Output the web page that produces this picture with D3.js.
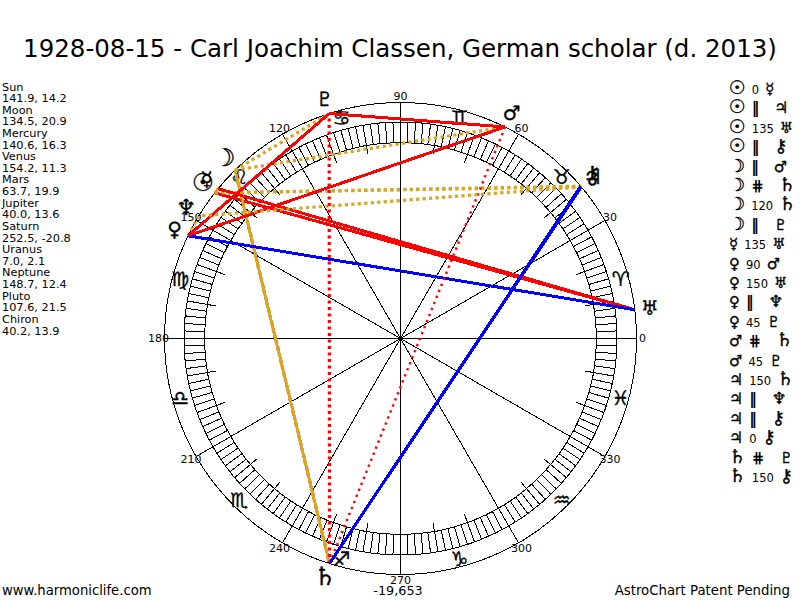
<!DOCTYPE html>
<html>
<head>
<meta charset="utf-8">
<script src="https://cdn.jsdelivr.net/npm/d3@7"></script>
<style>
  body { margin: 0; background: #fff; }
  text { font-family: "DejaVu Sans", sans-serif; fill: #000; }
  .glyph { stroke: #000; stroke-width: 0.35; }
</style>
</head>
<body>
<svg id="chart" width="800" height="600"></svg>
<script>
// natal chart wheel

var titleText = "1928-08-15 - Carl Joachim Classen, German scholar (d. 2013)";
var bodies = ["Sun", "Moon", "Mercury", "Venus", "Mars", "Jupiter", "Saturn", "Uranus", "Neptune", "Pluto", "Chiron"];
var longitudes = [141.9, 134.5, 140.6, 154.2, 63.7, 40.0, 252.5, 7.0, 148.7, 107.6, 40.2];
var declinations = [14.2, 20.9, 16.3, 11.3, 19.9, 13.6, -20.8, 2.1, 12.4, 21.5, 13.9];
var bodyGlyphs = ["\u2609", "\u263D", "\u263F", "\u2640", "\u2642", "\u2643", "\u2644", "\u2645", "\u2646", "\u2647", "\u26B7"];
var signGlyphs = ["\u2648", "\u2649", "\u264A", "\u264B", "\u264C", "\u264D", "\u264E", "\u264F", "\u2650", "\u2651", "\u2652", "\u2653"];
var degreeLabels = [0, 30, 60, 90, 120, 150, 180, 210, 240, 270, 300, 330];

// [body, aspect, body]; P = parallel, C = contra-parallel
var aspects = [
  [0, "0", 2], [0, "P", 5], [0, "135", 7], [0, "P", 10],
  [1, "P", 4], [1, "C", 6], [1, "120", 6], [1, "P", 9],
  [2, "135", 7],
  [3, "90", 4], [3, "150", 7], [3, "P", 8], [3, "45", 9],
  [4, "C", 6], [4, "45", 9],
  [5, "150", 6], [5, "P", 8], [5, "P", 10], [5, "0", 10],
  [6, "C", 9], [6, "150", 10]
];
var chartNumber = "-19,653";

var svg = d3.select("#chart");
var cx = 400.5, cy = 338.5;
var rOuter = 236, rRing = 216.5, rInner = 196, rTick = 187;
var FE = "\uFE0E";

// degrees on the wheel, 0 on the right, counter-clockwise
var angle = d3.scaleLinear().domain([0, 360]).range([0, -2 * Math.PI]);
function px(deg, r) { return cx + r * Math.cos(angle(deg)); }
function py(deg, r) { return cy + r * Math.sin(angle(deg)); }

// DejaVu draws some of the symbols smaller than others
var glyphSize = d3.scaleOrdinal().domain(bodyGlyphs)
  .range([25, 24, 20, 20, 20, 21, 25, 20, 22, 20, 24]);

function radial(g, degs, r0, r1) {
  g.selectAll(null).data(degs).enter().append("line")
    .attr("x1", function(d) { return px(d, r0); })
    .attr("y1", function(d) { return py(d, r0); })
    .attr("x2", function(d) { return px(d, r1); })
    .attr("y2", function(d) { return py(d, r1); })
    .attr("stroke", "#000").attr("stroke-width", 1);
}

svg.append("text").attr("x", 400).attr("y", 57).attr("text-anchor", "middle")
  .attr("font-size", 24.5).text(titleText);

// wheel
var wheel = svg.append("g").attr("shape-rendering", "crispEdges");
wheel.selectAll("circle").data([rOuter, rRing, rInner]).enter().append("circle")
  .attr("cx", cx).attr("cy", cy).attr("r", function(d) { return d; })
  .attr("fill", "none").attr("stroke", "#000").attr("stroke-width", 1);
radial(wheel, d3.range(0, 360, 2), rInner, rRing);
radial(wheel, d3.range(0, 360, 10), rTick, rRing);
radial(wheel, d3.range(0, 360, 30), 0, rOuter);

svg.selectAll(".sign").data(signGlyphs).enter().append("text")
  .attr("class", "glyph")
  .attr("x", function(d, i) { return px(i * 30 + 15, 228); })
  .attr("y", function(d, i) { return py(i * 30 + 15, 228) + 7; })
  .attr("text-anchor", "middle").attr("font-size", 20).text(function(d) { return d + FE; });

svg.selectAll(".deg").data(degreeLabels).enter().append("text")
  .attr("x", function(d) { return px(d, 242); })
  .attr("y", function(d) { return py(d, 242) + 3.5; })
  .attr("text-anchor", "middle").attr("font-size", 11).text(function(d) { return d; });

// aspect lines
function orb(d) {
  if (d[1] === "C") return Math.abs(declinations[d[0]] + declinations[d[2]]);
  return Math.abs(declinations[d[0]] - declinations[d[2]]);
}
function isDeclination(d) { return d[1] === "P" || d[1] === "C"; }

var aspectColor = d3.scaleOrdinal()
  .domain(["0", "P", "C", "45", "90", "135", "120", "150"])
  .range(["#daa520", "#daa520", "#f00", "#f00", "#f00", "#f00", "#daa520", "#00f"]);
// a wide contra-parallel gets the finer dotted line
function lineWidth(d) {
  if (!isDeclination(d)) return 3;
  return d[1] === "C" && orb(d) >= 0.8 ? 2.4 : 3.2;
}

svg.append("g").selectAll("line").data(aspects).enter().append("line")
  .attr("shape-rendering", function(d) { return isDeclination(d) ? "auto" : "crispEdges"; })
  .attr("x1", function(d) { return px(longitudes[d[0]], 236); })
  .attr("y1", function(d) { return py(longitudes[d[0]], 236); })
  .attr("x2", function(d) { return px(longitudes[d[2]], 236); })
  .attr("y2", function(d) { return py(longitudes[d[2]], 236); })
  .attr("stroke", function(d) { return aspectColor(d[1]); })
  .attr("stroke-width", lineWidth)
  .attr("stroke-dasharray", function(d) {
    if (!isDeclination(d)) return null;
    return lineWidth(d) + " " + (6.5 - lineWidth(d));
  });

// planets round the outside
svg.selectAll(".body").data(bodyGlyphs).enter().append("text")
  .attr("class", "glyph")
  .attr("x", function(d, i) { return px(longitudes[i], 251); })
  .attr("y", function(d, i) { return py(longitudes[i], 251) + 7; })
  .attr("text-anchor", "middle")
  .attr("font-size", function(d) { return glyphSize(d); })
  .text(function(d) { return d + FE; });

// left column
var listRows = [];
bodies.forEach(function(b, i) {
  listRows.push(b);
  listRows.push(longitudes[i].toFixed(1) + ", " + declinations[i].toFixed(1));
});
svg.selectAll(".list").data(listRows).enter().append("text")
  .attr("x", 2).attr("y", function(d, i) { return 90.5 + i * 11.62; })
  .attr("font-size", 11.3).text(function(d) { return d; });

// right column
var rows = svg.selectAll(".row").data(aspects).enter().append("text")
  .attr("x", 729).attr("y", function(d, i) { return 94 + i * 19.4; });
rows.append("tspan").attr("class", "glyph")
  .attr("font-size", function(d) { return glyphSize(bodyGlyphs[d[0]]) * 0.75; })
  .text(function(d) { return bodyGlyphs[d[0]] + FE; });
rows.append("tspan").attr("dx", 6)
  .attr("font-size", function(d) { return isDeclination(d) ? 15 : 11.5; })
  .attr("font-weight", function(d) { return isDeclination(d) ? "bold" : "normal"; })
  .text(function(d) { return d[1] === "P" ? "\u2016" : d[1] === "C" ? "\u22D5" : d[1]; });
rows.append("tspan").attr("class", "glyph")
  .attr("dx", function(d) { return isDeclination(d) ? 15 : 6; })
  .attr("font-size", function(d) { return glyphSize(bodyGlyphs[d[2]]) * 0.75; })
  .text(function(d) { return bodyGlyphs[d[2]] + FE; });

svg.append("text").attr("x", 398).attr("y", 595).attr("text-anchor", "middle")
  .attr("font-size", 12.8).text(chartNumber);
svg.append("text").attr("x", 2).attr("y", 595).attr("font-size", 13.2).text("www.harmoniclife.com");
svg.append("text").attr("x", 790).attr("y", 595).attr("text-anchor", "end")
  .attr("font-size", 13.3).text("AstroChart Patent Pending");
</script>
</body>
</html>
